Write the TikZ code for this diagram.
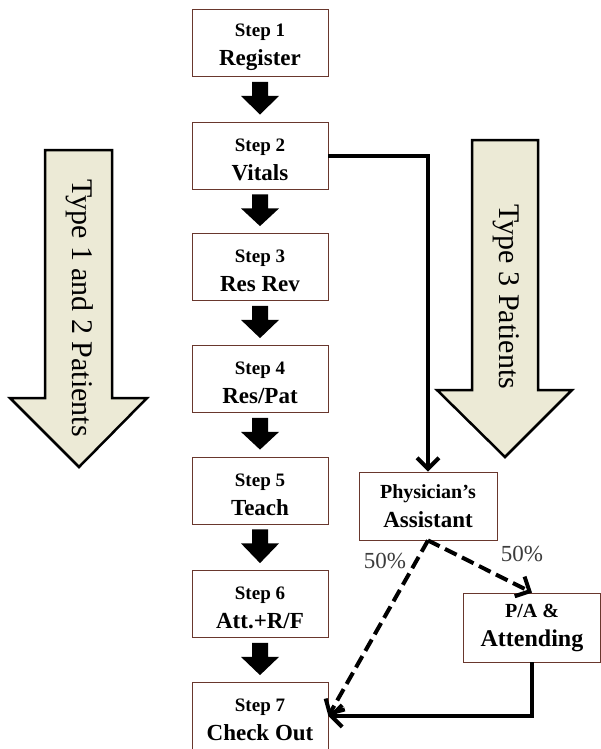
\documentclass[tikz,border=0pt]{standalone}
\usepackage{fontspec}
\setmainfont{Liberation Serif}
\usetikzlibrary{arrows.meta,calc}
\definecolor{boxline}{RGB}{105,55,45}
\definecolor{beige}{RGB}{236,234,214}
\definecolor{lblgray}{RGB}{60,60,60}
\newcommand\steptext[2]{{\fontsize{19}{22}\selectfont\rule{0pt}{21pt}#1}\\{\fontsize{23}{26}\selectfont #2}}
\begin{document}
\begin{tikzpicture}[x=1pt,y=-1pt,
  stepbox/.style={draw=boxline, line width=0.8pt, fill=white, minimum width=136pt,
    minimum height=67pt, align=center, inner sep=0pt, font=\bfseries\fontsize{23}{29}\selectfont},
  bigarrow/.style={draw=black, line width=2.5pt, fill=beige, line join=miter},
  bigtext/.style={rotate=-90, font=\fontsize{30}{32}\selectfont},
  conn/.style={line width=4pt, -{Straight Barb[length=11pt,width=22pt]}},
  dconn/.style={conn, dash pattern=on 13pt off 6pt},
  lbl/.style={font=\fontsize{23}{24}\selectfont, text=lblgray, inner sep=0pt},
  blockarr/.style={fill=black}]
\useasboundingbox (0,0) rectangle (601,749);
\fill[white] (0,0) rectangle (601,749);

% big arrows
\draw[bigarrow] (45,150) -- (112,150) -- (112,398) -- (147,398) -- (79,467) -- (10,398) -- (45,398) -- cycle;
\node[bigtext] (t12) at (80,308) {Type 1 and 2 Patients};
\draw[bigarrow] (472,140) -- (538,140) -- (538,390) -- (572,390) -- (505,457) -- (437,390) -- (472,390) -- cycle;
\node[bigtext] (t3) at (506,297) {Type 3 Patients};

% steps
\node[stepbox] (s1) at (260,43) {\steptext{Step 1}{Register}};
\node[stepbox] (s2) at (260,155.5) {\steptext{Step 2}{Vitals}};
\node[stepbox] (s3) at (260,267) {\steptext{Step 3}{Res Rev}};
\node[stepbox] (s4) at (260,379) {\steptext{Step 4}{Res/Pat}};
\node[stepbox] (s5) at (260,490.5) {\steptext{Step 5}{Teach}};
\node[stepbox] (s6) at (260,604) {\steptext{Step 6}{Att.+R/F}};
\node[stepbox] (s7) at (260,716) {\steptext{Step 7}{Check Out}};

\foreach \a/\b in {s1/s2,s2/s3,s3/s4,s4/s5,s5/s6,s6/s7}{
  \fill[blockarr] ($(\a.south)+(-8,5)$) -- ($(\a.south)+(8,5)$) -- ($(\a.south)+(8,19)$)
    -- ($(\a.south)+(19,19)$) -- ($(\b.north)+(0,-7)$) -- ($(\a.south)+(-19,19)$)
    -- ($(\a.south)+(-8,19)$) -- cycle;
}

% side boxes
\node[stepbox, minimum width=138pt, minimum height=68pt] (pa) at (428,506)
  {{\fontsize{20}{22}\selectfont Physician’s}\\{\fontsize{23}{26}\selectfont Assistant}};
\node[stepbox, minimum width=137pt, minimum height=69pt] (pa2) at (532,627.5)
  {{\fontsize{20}{22}\selectfont P/A \&}\\{\fontsize{24}{26}\selectfont Attending}};

% connectors
\draw[conn] (s2.east) -| (pa.north);
\draw[dconn] (pa.south) -- (s7.east);
\draw[dconn] (pa.south) -- (pa2.north);
\draw[conn] (pa2.south) |- (s7.east);

\node[lbl] (l1) at (385,561) {50\%};
\node[lbl] (l2) at (522,554) {50\%};
\end{tikzpicture}
\end{document}
